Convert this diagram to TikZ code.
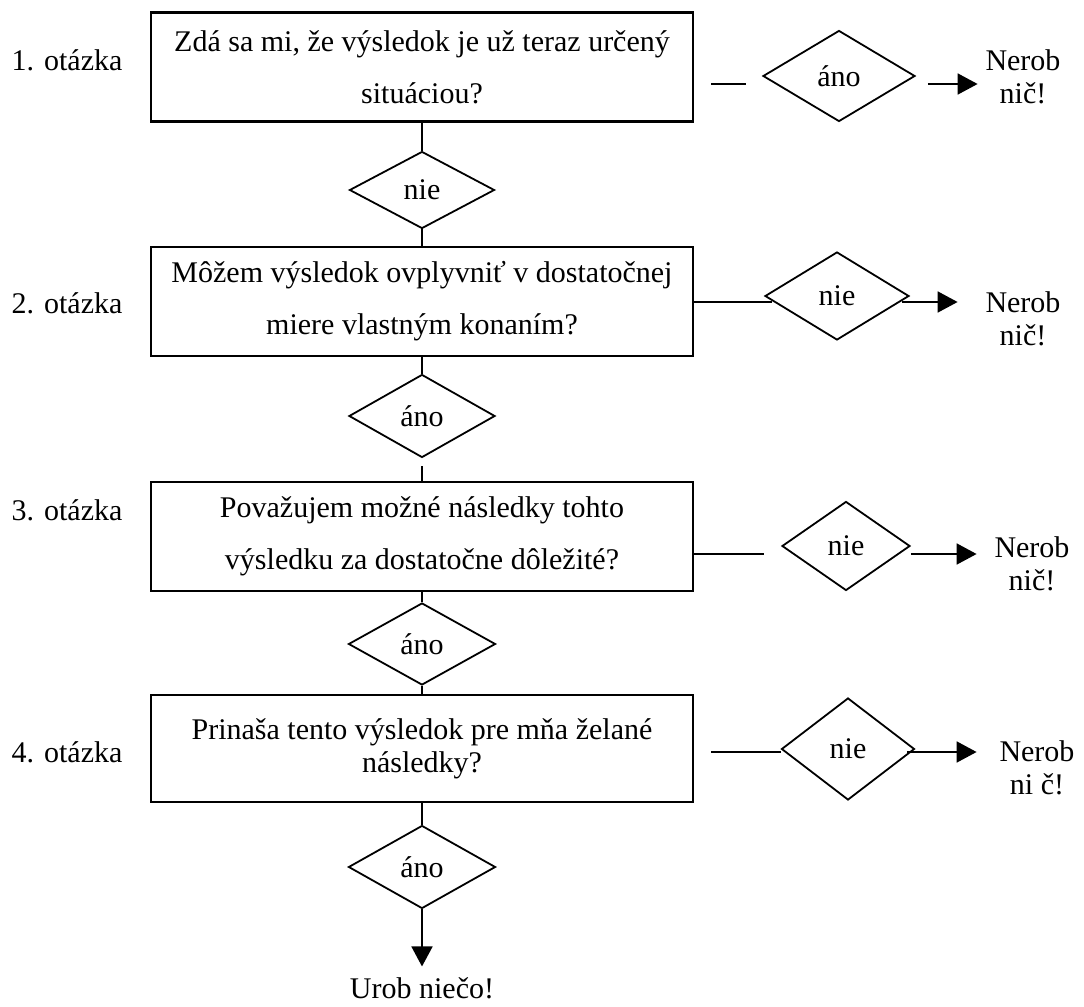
\documentclass[tikz,border=0pt]{standalone}
\usepackage{fontspec}
\setmainfont{Liberation Serif}
\usetikzlibrary{shapes.geometric,arrows.meta}
\begin{document}
\begin{tikzpicture}[x=0.5pt, y=-0.5pt, line width=0.9pt,
  every node/.style={font=\fontsize{15pt}{26pt}\selectfont, inner sep=0pt},
  qbox/.style={draw, line width=1.1pt, minimum width=271pt, minimum height=54.5pt, align=center},
  choice/.style={draw, diamond, line width=0.9pt},
  stopnode/.style={align=center, font=\fontsize{15pt}{16.5pt}\selectfont},
  arr/.style={-{Triangle[length=10pt,width=10.5pt]}}]
\useasboundingbox (0,0) rectangle (1084,1007);

% otazky
\node[anchor=base] (l1) at (67,70) {1. otázka};
\node[anchor=base] (l2) at (67,313) {2. otázka};
\node[anchor=base] (l3) at (67,520) {3. otázka};
\node[anchor=base] (l4) at (67,762) {4. otázka};

\node[qbox] (q1) at (422,67) {Zdá sa mi, že výsledok je už teraz určený\\situáciou?};
\node[qbox] (q2) at (422,301.5) {Môžem výsledok ovplyvniť v dostatočnej\\miere vlastným konaním?};
\node[qbox] (q3) at (422,536.5) {Považujem možné následky tohto\\výsledku za dostatočne dôležité?};
\node[qbox, minimum height=53.5pt, font=\fontsize{15pt}{16.5pt}\selectfont] (q4) at (422,748.5) {Prinaša tento výsledok pre mňa želané\\následky?};

% stredny stlpec
\node[choice, minimum width=72.5pt, minimum height=38.5pt] (dn1) at (422,190) {nie};
\node[choice, minimum width=73pt, minimum height=41.5pt] (da2) at (422,416) {áno};
\node[choice, minimum width=73.5pt, minimum height=41pt] (da3) at (422,644) {áno};
\node[choice, minimum width=73.5pt, minimum height=41.5pt] (da4) at (422,867) {áno};
\node (end) at (422,988) {Urob niečo!};

% pravy stlpec
\node[choice, minimum width=76pt, minimum height=45.5pt] (r1) at (839,76) {áno};
\node[choice, minimum width=72pt, minimum height=44pt] (r2) at (837,296) {nie};
\node[choice, minimum width=64pt, minimum height=44.5pt] (r3) at (846,546) {nie};
\node[choice, minimum width=66.5pt, minimum height=51pt] (r4) at (848,749) {nie};

\node[stopnode] (n1) at (1023,77) {Nerob\\nič!};
\node[stopnode] (n2) at (1023,319) {Nerob\\nič!};
\node[stopnode] (n3) at (1032,564) {Nerob\\nič!};
\node[stopnode] (n4) at (1037,768) {Nerob\\ni č!};

\coordinate (y1) at (0,84);
\coordinate (y2) at (0,302);
\coordinate (y3) at (0,554);
\coordinate (y4) at (0,752);

\draw (q1) -- (dn1);
\draw (dn1) -- (q2);
\draw (q2) -- (da2);
\draw[shorten <=4pt] (da2) -- (q3);
\draw (q3) -- (da3);
\draw (da3) -- (q4);
\draw (q4) -- (da4);
\draw[arr, shorten >=5pt] (da4) -- (end);

\draw ([xshift=8.5pt]q1.east |- y1) -- ([xshift=-8pt]r1.west |- y1);
\draw[arr] ([xshift=6pt]r1.east |- y1) -- ([xshift=-3.5pt]n1.west |- y1);
\draw (q2.east |- y2) -- ([xshift=4pt]r2.west |- y2);
\draw[arr] ([xshift=-4pt]r2.east |- y2) -- ([xshift=-13.5pt]n2.west |- y2);
\draw (q3.east |- y3) -- ([xshift=-8.5pt]r3.west |- y3);
\draw[arr] (r3.east |- y3) -- ([xshift=-8.5pt]n3.west |- y3);
\draw ([xshift=8.5pt]q4.east |- y4) -- (r4.west |- y4);
\draw[arr] ([xshift=-4pt]r4.east |- y4) -- ([xshift=-11pt]n4.west |- y4);

\end{tikzpicture}
\end{document}
